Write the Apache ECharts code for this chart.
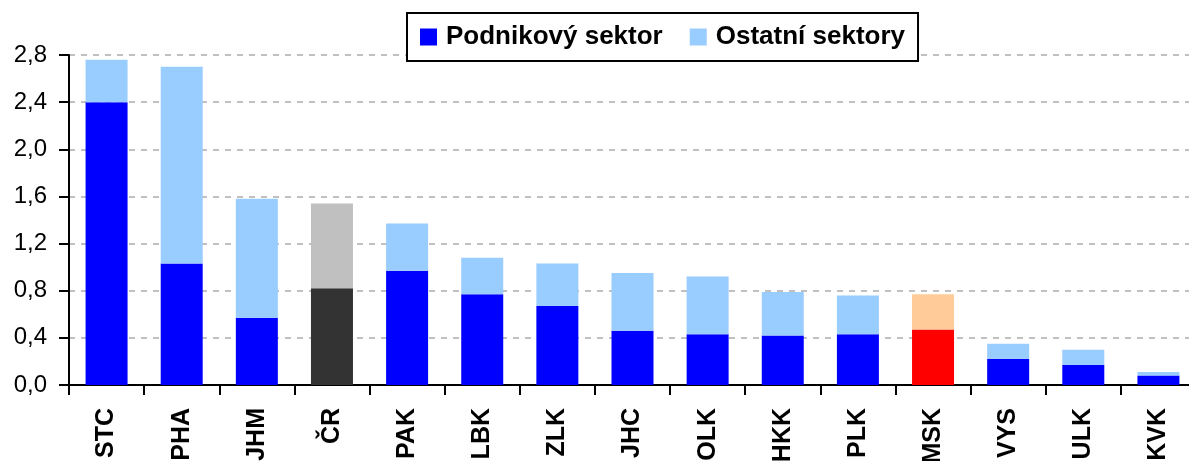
<!DOCTYPE html>
<html>
<head>
<meta charset="utf-8">
<script src="https://cdn.jsdelivr.net/npm/echarts@6/dist/echarts.min.js"></script>
<style>
  html, body { margin: 0; padding: 0; background: #fff; }
  #chart { width: 1189px; height: 461px; }
</style>
</head>
<body>
<div id="chart"></div>
<script>
// kraje
const categories = ['STC', 'PHA', 'JHM', 'ČR', 'PAK', 'LBK', 'ZLK', 'JHC', 'OLK', 'HKK', 'PLK', 'MSK', 'VYS', 'ULK', 'KVK'];
// podnikový sektor
const podnikovy = [2.40, 1.03, 0.57, 0.82, 0.97, 0.77, 0.67, 0.46, 0.43, 0.42, 0.43, 0.47, 0.22, 0.17, 0.08];
// ostatní sektory (doplněk do celku)
const ostatni = [0.36, 1.67, 1.01, 0.72, 0.40, 0.31, 0.36, 0.49, 0.49, 0.37, 0.33, 0.30, 0.13, 0.13, 0.03];

// zvýraznění ČR a MSK
const highlight = {
  'ČR': ['#333333', '#C0C0C0'],
  'MSK': ['#FF0000', '#FFCC99']
};

const font = '"Liberation Sans", Arial, sans-serif';

function withColors(values, idx) {
  return values.map((v, i) => {
    const h = highlight[categories[i]];
    return h ? { value: v, itemStyle: { color: h[idx] } } : v;
  });
}

const chart = echarts.init(document.getElementById('chart'));

const option = {
  animation: false,
  textStyle: { fontFamily: font },
  legend: {
    left: 407,
    top: 13,
    padding: [11, 13, 11, 13],
    itemGap: 27,
    itemWidth: 17,
    itemHeight: 17,
    icon: 'rect',
    borderColor: '#000',
    borderWidth: 2,
    backgroundColor: '#fff',
    textStyle: { fontFamily: font, fontSize: 26, fontWeight: 'bold', color: '#000', padding: [0, 0, 0, 4] },
    data: ['Podnikový sektor', 'Ostatní sektory']
  },
  grid: {
    left: 69,
    top: 55,
    width: 1127,
    bottom: 76,
    outerBoundsMode: 'none'
  },
  xAxis: {
    type: 'category',
    data: categories,
    axisLine: { lineStyle: { color: '#000', width: 2 } },
    axisTick: { show: true, length: 10, lineStyle: { color: '#000', width: 2 } },
    axisLabel: {
      rotate: 90,
      margin: 23,
      fontFamily: font,
      fontSize: 25,
      fontWeight: 'bold',
      color: '#000'
    }
  },
  yAxis: {
    type: 'value',
    min: 0,
    max: 2.8,
    interval: 0.4,
    axisLine: { show: true, lineStyle: { color: '#000', width: 2 } },
    axisTick: { show: true, length: 10, lineStyle: { color: '#000', width: 2 } },
    axisLabel: {
      margin: 22,
      fontFamily: font,
      fontSize: 24,
      color: '#000',
      formatter: v => v.toFixed(1).replace('.', ',')
    },
    splitLine: { lineStyle: { color: '#C0C0C0', width: 2, type: [6, 6] } }
  },
  series: [
    {
      name: 'Podnikový sektor',
      type: 'bar',
      stack: 'total',
      barWidth: 42,
      itemStyle: { color: '#0000FF' },
      data: withColors(podnikovy, 0)
    },
    {
      name: 'Ostatní sektory',
      type: 'bar',
      stack: 'total',
      barWidth: 42,
      itemStyle: { color: '#99CCFF' },
      data: withColors(ostatni, 1)
    }
  ]
};

chart.setOption(option);
</script>
</body>
</html>
